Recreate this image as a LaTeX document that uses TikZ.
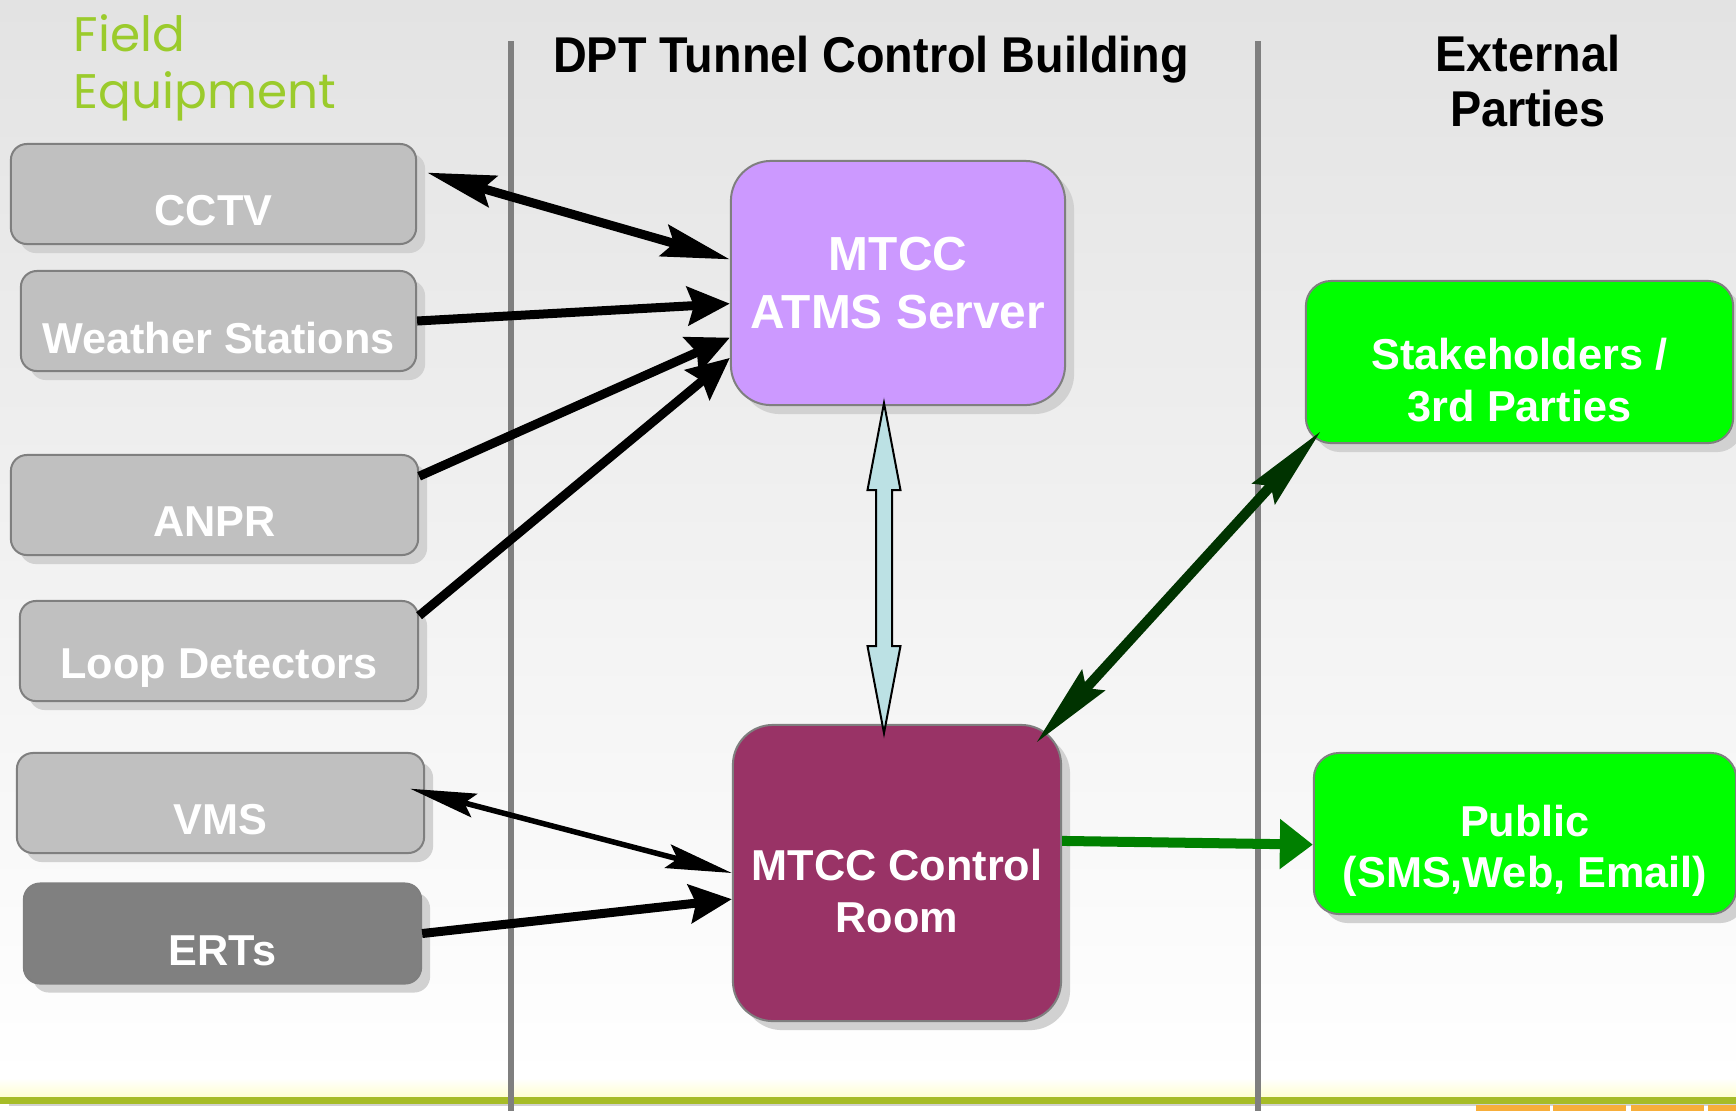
\documentclass[tikz,border=0pt]{standalone}
\usepackage{fontspec}
\setmainfont{Liberation Sans}
\newfontfamily\headfont[FakeStretch=0.93]{Liberation Sans}
\newfontfamily\fieldfont{Poppins}
\usepackage{tikz}
\usetikzlibrary{arrows.meta,shadows}

\definecolor{fieldgreen}{HTML}{9BCB2C}
\definecolor{boxgray}{HTML}{C0C0C0}
\definecolor{ertgray}{HTML}{808080}
\definecolor{framegray}{HTML}{7F7F7F}
\definecolor{serverlilac}{HTML}{CC99FF}
\definecolor{roomplum}{HTML}{993366}
\definecolor{partygreen}{HTML}{00FF00}
\definecolor{linkblue}{HTML}{BCE1E4}
\definecolor{darklink}{HTML}{003300}
\definecolor{publink}{HTML}{008000}
\definecolor{barolive}{HTML}{A6BC27}
\definecolor{tileorange}{HTML}{F7AE3A}

\begin{document}
\begin{tikzpicture}[%
		  x=0.01cm, y=-0.01cm,
		  shade/.style={drop shadow={shadow xshift=0.09cm, shadow yshift=-0.09cm, fill=black!18, opacity=1}},
		  fieldbox/.style={draw=framegray, line width=0.02cm, fill=boxgray, rounded corners=0.16cm,
		    minimum height=1cm, shade},
		  bigbox/.style={draw=framegray, line width=0.02cm, rounded corners=0.4cm, shade},
		  boxtext/.style={text=white, font=\bfseries\fontsize{12.3}{14.6}\selectfont, align=center, yshift=-0.17cm},
		  heading/.style={font=\headfont\bfseries\fontsize{14.3}{15.6}\selectfont, align=center},
		  oneway/.style={line width=0.09cm, -{Stealth[length=0.42cm, width=0.38cm, inset=0.06cm]}},
		  twoway/.style={line width=0.09cm, {Stealth[length=0.68cm, width=0.32cm, inset=0.1cm]}-{Stealth[length=0.68cm, width=0.32cm, inset=0.1cm]}},
		  thinway/.style={line width=0.055cm, {Stealth[length=0.66cm, width=0.24cm, inset=0.1cm]}-{Stealth[length=0.66cm, width=0.24cm, inset=0.1cm]}},
		  divider/.style={framegray, line width=0.06cm}]
		  \useasboundingbox (0,0) rectangle (1736,1111);
		  \shade[top color=black!11, middle color=black!6, bottom color=white] (0,0) rectangle (1736,1080);
		  \shade[top color=white, bottom color=yellow!18] (0,1078) rectangle (1736,1097);
		  \fill[barolive] (0,1097) rectangle (1736,1104);
		  \foreach \xa/\xb in {1476/1550, 1553/1626, 1631/1704, 1708/1736}
		    \fill[tileorange] (\xa,1105) rectangle (\xb,1111);
		  \draw[divider] (511,41) -- (511,1111);
		  \draw[divider] (1258,41) -- (1258,1111);

		  \node[text=fieldgreen, font=\fieldfont\fontsize{13.8}{16.2}\selectfont, align=left, anchor=north west, inner sep=0] (fieldhead) at (73,14) {Field\\Equipment};
		  \node[heading, anchor=base] (buildinghead) at (871,72) {DPT Tunnel Control Building};
		  \node[heading, anchor=north, inner sep=0] (partyhead) at (1528,34) {External\\Parties};

		  \node[fieldbox, minimum width=4.05cm, label={[boxtext]center:CCTV}] (cctv) at (213.5,194) {};
		  \node[fieldbox, minimum width=3.95cm, label={[boxtext]center:Weather Stations}] (weather) at (218.5,321) {};
		  \node[fieldbox, minimum width=4.07cm, label={[boxtext]center:ANPR}] (anpr) at (214.5,505) {};
		  \node[fieldbox, minimum width=3.98cm, label={[boxtext]center:Loop Detectors}] (loop) at (219,651) {};
		  \node[fieldbox, minimum width=4.07cm, label={[boxtext]center:VMS}] (vms) at (220.5,803) {};
		  \node[fieldbox, fill=ertgray, minimum width=3.97cm, label={[boxtext]center:ERTs}] (erts) at (222.5,933.5) {};

		  \node[bigbox, fill=serverlilac, minimum width=3.34cm, minimum height=2.44cm,
		    text=white, font=\bfseries\fontsize{13.6}{16.5}\selectfont, align=center] (atms) at (898,283) {MTCC\\ATMS Server};
		  \node[bigbox, fill=roomplum, minimum width=3.28cm, minimum height=2.96cm,
		    label={[boxtext, yshift=-0.01cm]center:MTCC Control\\Room}] (ctrl) at (897,873) {};
		  \node[bigbox, fill=partygreen, rounded corners=0.25cm, minimum width=4.27cm, minimum height=1.62cm,
		    label={[boxtext, yshift=-0.01cm]center:Stakeholders /\\3rd Parties}] (stake) at (1519.5,362) {};
		  \node[bigbox, fill=partygreen, rounded corners=0.25cm, minimum width=4.22cm, minimum height=1.61cm,
		    label={[boxtext]center:Public\\(SMS,Web, Email)}] (public) at (1525,833.5) {};

		  \draw[twoway] ([xshift=0.1cm]cctv.6) -- (atms.172);
		  \draw[oneway] (weather.east) -- (atms.187);
		  \draw[oneway] (anpr.8) -- (atms.198);
		  \draw[oneway] (loop.10) -- (atms.204);
		  \draw[thinway] ([xshift=-0.15cm]vms.4) -- (ctrl.west);
		  \draw[oneway] (erts.east) -- (ctrl.189);
		  \draw[darklink, line width=0.1cm, {Stealth[length=0.84cm, width=0.3cm, inset=0.1cm]}-{Stealth[length=0.84cm, width=0.3cm, inset=0.1cm]}]
		    ([shift={(-26,19)}]ctrl.north east) -- ([shift={(16,-13)}]stake.south west);
		  \draw[publink, line width=0.1cm, -{Triangle[length=0.33cm, width=0.48cm]}] (ctrl.11) -- (public.183);
		  \draw[fill=linkblue, line width=0.02cm] ([xshift=-0.14cm, yshift=0.03cm]atms.south)
		    -- ++(16.5,87) -- ++(-8.5,0) -- ++(0,156) -- ++(8.5,0) -- ++(-16.5,87)
		    -- ++(-16.5,-87) -- ++(8.5,0) -- ++(0,-156) -- ++(-8.5,0) -- cycle;
		  \end{tikzpicture}
\end{document}
